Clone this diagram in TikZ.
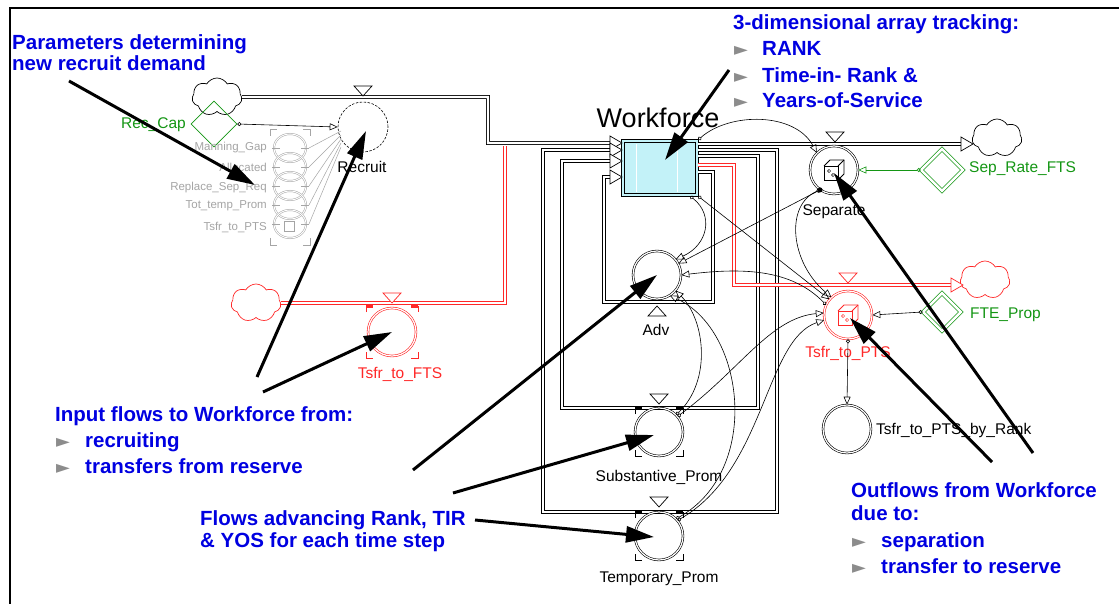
\documentclass[tikz,border=0pt]{standalone}
\usepackage{fontspec}
\setmainfont{Liberation Sans}
\newfontfamily\symfont{DejaVu Sans}
\usetikzlibrary{shapes.symbols,shapes.geometric,arrows.meta,calc}
\definecolor{txtblue}{RGB}{0,0,225}
\definecolor{stgreen}{RGB}{20,150,20}
\definecolor{stred}{RGB}{255,40,40}
\definecolor{ghost}{RGB}{165,165,165}
\definecolor{stockfill}{RGB}{195,242,248}
\definecolor{bulletgrey}{RGB}{140,140,140}
\newcommand\fsz[1]{\fontsize{#1}{#1}\selectfont}
\newcommand\tipR[3][black]{\draw[#1,line width=0.7pt,fill=white] (#2-12,#3-7) -- (#2-12,#3+7) -- (#2,#3) -- cycle;}
\newcommand\vdown[3][black]{\draw[#1,line width=0.7pt,fill=white] (#2-9,#3) -- (#2+9,#3) -- (#2,#3+10) -- cycle;}
\newcommand\vup[3][black]{\draw[#1,line width=0.7pt,fill=white] (#2-9,#3) -- (#2+9,#3) -- (#2,#3-10) -- cycle;}
\newcommand\brk[4][black]{%
\draw[#1,line width=0.8pt] (#2-#4,#3-#4+6) -- (#2-#4,#3-#4) -- (#2-#4+7,#3-#4);
\draw[#1,line width=0.8pt] (#2+#4-7,#3-#4) -- (#2+#4,#3-#4) -- (#2+#4,#3-#4+6);
\draw[#1,line width=0.8pt] (#2-#4,#3+#4-6) -- (#2-#4,#3+#4) -- (#2-#4+7,#3+#4);
\draw[#1,line width=0.8pt] (#2+#4-7,#3+#4) -- (#2+#4,#3+#4) -- (#2+#4,#3+#4-6);
\fill[#1] (#2-#4,#3-#4-2) rectangle (#2-#4+7,#3-#4+2);
\fill[#1] (#2+#4-7,#3-#4-2) rectangle (#2+#4,#3-#4+2);}
\newcommand\cubeicon[3][black]{%
\draw[#1,line width=0.8pt] (#2-10,#3-4) rectangle (#2+4,#3+10);
\draw[#1,line width=0.8pt] (#2-10,#3-4) -- (#2-4,#3-10) -- (#2+10,#3-10) -- (#2+10,#3+4) -- (#2+4,#3+10);
\draw[#1,line width=0.8pt] (#2+4,#3-4) -- (#2+10,#3-10);
\draw[#1,line width=0.5pt] (#2-5,#3+1) circle (1.6pt) (#2-1,#3+5) circle (1.6pt);}
\begin{document}
\begin{tikzpicture}[x=1pt,y=-1pt,
  note/.style={anchor=base west, inner sep=0, text=txtblue, font=\fsz{20.5}\bfseries},
  bul/.style={anchor=base west, inner sep=0, text=bulletgrey, font=\symfont\fsz{18}},
  lbl/.style={inner sep=0, font=\fsz{15.5}},
  glbl/.style={inner sep=0, anchor=east, text=ghost, font=\fsz{11.5}},
  callout/.style={line width=3pt, -{Triangle[length=28pt,width=16pt]}},
  pipe/.style={line width=0.8pt, double=white, double distance=2.2pt},
  redpipe/.style={pipe, draw=stred},
  valve/.style={circle, draw, double, double distance=1.2pt, minimum size=48pt, inner sep=0, line width=0.6pt},
  link/.style={line width=0.6pt, {Circle[open,length=4pt,width=4pt]}-{Triangle[open,length=8pt,width=7pt]}},
  diam/.style={diamond, draw=stgreen, minimum width=46pt, minimum height=46pt, inner sep=0, line width=0.7pt},
  cloudy/.style={cloud, cloud puffs=7, cloud puff arc=120, aspect=1.3, draw, minimum width=50pt, minimum height=38pt, inner sep=0, line width=0.7pt}]
\useasboundingbox (0,0) rectangle (1119,604);
\fill[white] (0,0) rectangle (1119,604);
% frame
\draw[line width=2pt] (10,604) -- (10,8) -- (1119,8);

% stock
\node[fill=stockfill, minimum width=76pt, minimum height=56pt, inner sep=0] (wf) at (660,168) {};
\draw[white, line width=0.8pt] (636,144) -- (636,192) (677,144) -- (677,192);
\draw[line width=0.9pt] (wf.north west) rectangle (wf.south east);
\draw[line width=0.7pt] ($(wf.north west)+(3,3)$) rectangle ($(wf.south east)+(-3,-3)$);
\node[inner sep=0, font=\fsz{27}] (wflbl) at (658,118) {Workforce};

% clouds
\node[cloudy] (c1) at (217,97) {};
\node[cloudy, draw=stred] (c2) at (256,303) {};
\node[cloudy] (c3) at (997,138) {};
\node[cloudy, draw=stred] (c4) at (985,280) {};

% pipes
\draw[pipe] (c1.east) -- (488,97) -- (488,143) -- (610,143);
\draw[redpipe] (c2.east) -- (c2.east -| 505,0) -- (505,146);
\draw[pipe] (wf.east |- 0,144) -- (961,144);
\draw[pipe] (wf.east |- 0,150) -- (777,150) -- (777,512) -- (543,512) -- (543,150) -- (610,150);
\draw[pipe] (wf.east |- 0,156) -- (758,156) -- (758,408) -- (562,408) -- (562,161) -- (610,161);
\draw[pipe] (wf.east |- 0,172) -- (713,172) -- (713,302) -- (604,302) -- (604,177) -- (610,177);
\draw[redpipe] (wf.east |- 0,165) -- (734,165) -- (734,285) -- (951,285);
\tipR{622}{143}\tipR{622}{150}\tipR{622}{161}\tipR{622}{177}
\tipR{973}{144}
\tipR[stred]{963}{285}

% valves / converters
\node[circle, draw, dash pattern=on 2.5pt off 1.5pt, minimum size=50pt, line width=0.6pt, inner sep=0] (rec) at (363,127) {};
\node[valve, draw=stred] (tfts) at (392,332) {};
\node[valve] (sep) at (834,170) {};
\node[valve, draw=stred] (tpts) at (848,315) {};
\node[valve] (tbr) at (847,429) {};
\node[valve] (adv) at (657,275) {};
\node[valve] (sub) at (659,432) {};
\node[valve] (tmp) at (659,536) {};
\vdown{363}{86}
\vdown[stred]{392}{293}
\vdown{835}{132}
\vdown[stred]{848}{273}
\vup{657}{316}
\vdown{659}{394}
\vdown{659}{497}
\brk[stred]{392}{332}{26}
\brk{659}{432}{24}
\brk{659}{536}{24}
\cubeicon{834}{170}
\cubeicon[stred]{848}{315}

% auxiliaries
\node[diam] (reccap) at (214,124) {};
\node[diam, double, double distance=2.5pt, minimum width=42pt, minimum height=42pt] (srf) at (942,170) {};
\node[diam, double, double distance=2.5pt, minimum width=38pt, minimum height=38pt] (fte) at (942,312) {};

% ghost stack
\foreach \gy in {148,167,186,205,224}{
  \draw[ghost, double, double distance=1pt, line width=0.5pt] (290,\gy) ellipse (16pt and 14pt);
  \draw[ghost, line width=0.5pt] (272,\gy) -- (280,\gy) (301,\gy) -- (309,\gy);
}
\draw[ghost, line width=0.8pt] (270,136) -- (270,129) -- (277,129) (303,129) -- (310,129) -- (310,136)
  (270,238) -- (270,245) -- (277,245) (303,245) -- (310,245) -- (310,238);
\draw[ghost, line width=0.6pt] (284,221) rectangle (294,231);
\foreach \gy/\ty in {148/131,167/135,186/139,205/143,224/147}{
  \draw[ghost, line width=0.5pt] (309,\gy) -- (341,\ty);
}
\node[glbl] at (267,148) {Manning\_Gap};
\node[glbl] at (267,167) {Allocated};
\node[glbl] at (267,188) {Replace\_Sep\_Req};
\node[glbl] at (267,206) {Tot\_temp\_Prom};
\node[glbl] at (267,227) {Tsfr\_to\_PTS};

% labels
\node[lbl] at (362,167) {Recruit};
\node[lbl, text=stred] at (400,374) {Tsfr\_to\_FTS};
\node[lbl] at (656,330) {Adv};
\node[lbl] at (659,477) {Substantive\_Prom};
\node[lbl] at (659,579) {Temporary\_Prom};
\node[lbl] at (834,212) {Separate};
\node[lbl, text=stred] at (848,353) {Tsfr\_to\_PTS};
\node[lbl, anchor=west] at (876,430) {Tsfr\_to\_PTS\_by\_Rank};
\node[lbl, anchor=west, text=stgreen] at (969,169) {Sep\_Rate\_FTS};
\node[lbl, anchor=west, text=stgreen] at (970,315) {FTE\_Prop};
\node[lbl, anchor=east, text=stgreen] at (186,125) {Rec\_Cap};

% information links
\draw[link] (reccap.east) -- (rec.west);
\draw[link, stgreen] (srf.west) -- (sep.east);
\draw[link] (fte.west) -- (tpts.east);
\draw[link] (tpts.south) -- (tbr.north);
\draw[link] (wf.north east) .. controls (730,112) and (795,112) .. (sep.135);
\draw[link] ($(wf.south east)+(-8,0)$) .. controls (714,215) and (708,245) .. (adv.40);
\draw[link] (wf.south east) -- (tpts.140);
\draw[link] (sep.235) -- (adv.28);
\draw[link] (tpts.155) .. controls (790,268) and (740,268) .. (adv.0);
\draw[link] (sep.235) .. controls (785,205) and (790,262) .. (tpts.133);
\draw[link] (sub.45) .. controls (712,380) and (705,320) .. (adv.-40);
\draw[link] (tmp.45) .. controls (762,470) and (745,330) .. (adv.-58);
\draw[link] (sub.40) .. controls (740,370) and (770,318) .. (tpts.175);
\draw[link] (tmp.40) .. controls (765,470) and (765,340) .. (tpts.192);
\fill (sep.235) circle (2.5pt);

% blue annotations
\node[note] at (12,50) {Parameters determining};
\node[note] at (12,71) {new recruit demand};
\node[note] at (733,30) {3-dimensional array tracking:};
\node[bul] at (734,56) {►}; \node[note] at (762,56) {RANK};
\node[bul] at (734,83) {►}; \node[note] at (762,83) {Time-in- Rank \&};
\node[bul] at (734,108) {►}; \node[note] at (762,108) {Years-of-Service};
\node[note] at (55,421) {Input flows to Workforce from:};
\node[bul] at (56,447) {►}; \node[note] at (85,447) {recruiting};
\node[bul] at (56,473) {►}; \node[note] at (85,473) {transfers from reserve};
\node[note] at (200,525) {Flows advancing Rank, TIR};
\node[note] at (200,547) {\& YOS for each time step};
\node[note] at (851,497) {Outflows from Workforce};
\node[note] at (851,520) {due to:};
\node[bul] at (852,547) {►}; \node[note] at (881,547) {separation};
\node[bul] at (852,573) {►}; \node[note] at (881,573) {transfer to reserve};

% callout arrows
\coordinate (s1) at (69,81);
\coordinate (g1) at (255,185);
\coordinate (s2) at (257,377);
\coordinate (s3) at (263,392);
\coordinate (s4) at (729,70);
\coordinate (s5) at (413,470);
\coordinate (s6) at (453,493);
\coordinate (s7) at (475,520);
\coordinate (s8) at (992,462);
\coordinate (s9) at (1033,453);
\draw[callout] (s1) -- (g1);
\draw[callout] (s2) -- ($(rec.center)+(3,4)$);
\draw[callout] (s3) -- (tfts.center);
\draw[callout] (s4) -- ($(wf.center)+(5,-8)$);
\draw[callout] (s5) -- (adv.center);
\draw[callout] (s6) -- ($(sub.center)+(-5,3)$);
\draw[callout] (s7) -- ($(tmp.center)+(-5,1)$);
\draw[callout] (s8) -- ($(tpts.center)+(2,3)$);
\draw[callout] (s9) -- ($(sep.center)+(0,3)$);
\end{tikzpicture}
\end{document}
